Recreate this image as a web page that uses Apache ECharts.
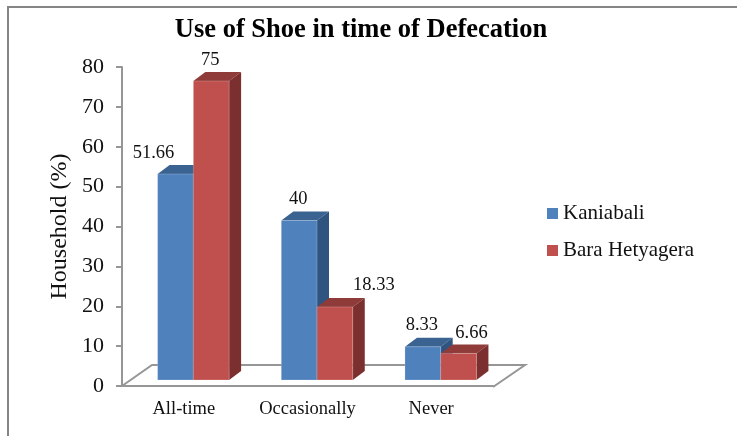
<!DOCTYPE html>
<html>
<head>
<meta charset="utf-8">
<title>Use of Shoe in time of Defecation</title>
<script src="https://cdn.jsdelivr.net/npm/echarts@6/dist/echarts.min.js"></script>
<style>
html, body { margin: 0; padding: 0; background: #fff; }
#chart { width: 737px; height: 436px; }
</style>
</head>
<body>
<div id="chart"></div>
<script>
var categories = ['All-time', 'Occasionally', 'Never'];
var kaniabali = [51.66, 40, 8.33];
var baraHetyagera = [75, 18.33, 6.66];
var yTicks = [0, 80, 10];

// 手动摆放的数据标签偏移量 (相对柱子正面顶部中点)
var kaniabaliLabelShift = [[-22, -21], [-1, -21], [-1, -22]];
var baraLabelShift = [[-1, -21], [39, -22], [13, -20]];

var FONT = '"Liberation Serif", "Times New Roman", serif';
var GREY = '#969696';
var DEPTH_X = 12, DEPTH_Y = 9;
var FLOOR_LIFT = 6; // 柱底比坐标轴 0 刻度高一点

function renderBar(values, shifts, seriesPos, front, top, side) {
    return function (params, api) {
        var i = api.value(0);
        var band = api.size([1, 0])[0];
        var w = band * 0.289;
        var c = api.coord([i, values[i]]);
        var b = api.coord([i, 0]);
        var x0 = c[0] + band * 0.077 + (seriesPos - 1) * w;
        var x1 = x0 + w;
        var y0 = c[1] - FLOOR_LIFT;
        var y1 = b[1] - FLOOR_LIFT;
        return {
            type: 'group',
            children: [
                {
                    type: 'polygon',
                    shape: {points: [[x0, y0], [x0 + DEPTH_X, y0 - DEPTH_Y], [x1 + DEPTH_X, y0 - DEPTH_Y], [x1, y0]]},
                    style: {fill: top}
                },
                {
                    type: 'polygon',
                    shape: {points: [[x1, y0], [x1 + DEPTH_X, y0 - DEPTH_Y], [x1 + DEPTH_X, y1 - DEPTH_Y], [x1, y1]]},
                    style: {fill: side}
                },
                {
                    type: 'rect',
                    shape: {x: x0, y: y0, width: w, height: y1 - y0},
                    style: {fill: front, stroke: 'rgba(255,255,255,0.2)', lineWidth: 1}
                },
                {
                    type: 'text',
                    style: {
                        x: (x0 + x1) / 2 + shifts[i][0],
                        y: y0 + shifts[i][1],
                        text: String(values[i]),
                        font: '18.5px ' + FONT,
                        fill: '#111',
                        align: 'center',
                        verticalAlign: 'middle'
                    }
                }
            ]
        };
    };
}

// 地板的平行四边形
function renderFloor(params) {
    var g = params.coordSys;
    var bottom = g.y + g.height;
    return {
        type: 'polyline',
        shape: {points: [[g.x, bottom], [g.x + 30, bottom - 21], [g.x + g.width + 32, bottom - 21], [g.x + g.width, bottom + 1]]},
        style: {fill: 'none', stroke: GREY, lineWidth: 2}
    };
}

var myChart = echarts.init(document.getElementById('chart'), null, {renderer: 'canvas'});

var option = {
    animation: false,
    backgroundColor: '#fff',
    textStyle: {fontFamily: FONT},
    title: {
        text: 'Use of Shoe in time of Defecation',
        left: 356,
        top: 12,
        textAlign: 'center',
        textStyle: {fontFamily: FONT, fontSize: 26.5, fontWeight: 'bold', color: '#000'}
    },
    legend: {
        left: 542,
        top: 198,
        orient: 'vertical',
        itemWidth: 11,
        itemHeight: 11,
        itemGap: 16,
        icon: 'rect',
        data: ['Kaniabali', 'Bara Hetyagera'],
        textStyle: {fontFamily: FONT, fontSize: 21, color: '#111'}
    },
    grid: {left: 122, right: 244, top: 67, bottom: 50},
    xAxis: {
        type: 'category',
        data: categories,
        axisLine: {lineStyle: {color: GREY, width: 2}},
        axisTick: {alignWithLabel: false, length: 6, lineStyle: {color: GREY, width: 2}},
        axisLabel: {fontFamily: FONT, fontSize: 18.5, color: '#111', margin: 14, interval: 0}
    },
    yAxis: {
        type: 'value',
        min: yTicks[0],
        max: yTicks[1],
        interval: yTicks[2],
        name: 'Household (%)',
        nameLocation: 'middle',
        nameGap: 50,
        nameMoveOverlap: false,
        nameTextStyle: {fontFamily: FONT, fontSize: 24, color: '#111'},
        splitLine: {show: false},
        axisLine: {show: true, lineStyle: {color: GREY, width: 2}},
        axisTick: {show: true, length: 6, lineStyle: {color: GREY, width: 2}},
        axisLabel: {fontFamily: FONT, fontSize: 22, color: '#111', margin: 18}
    },
    series: [
        {
            type: 'custom',
            name: 'floor',
            silent: true,
            z: 1,
            data: [0],
            renderItem: renderFloor
        },
        {
            type: 'custom',
            name: 'Kaniabali',
            z: 2,
            itemStyle: {color: '#4f81bd'},
            data: categories.map(function (c, i) { return [i, kaniabali[i]]; }),
            encode: {x: 0, y: 1},
            renderItem: renderBar(kaniabali, kaniabaliLabelShift, 0, '#4f81bd', '#3b6391', '#2f5480')
        },
        {
            type: 'custom',
            name: 'Bara Hetyagera',
            z: 3,
            itemStyle: {color: '#c0504d'},
            data: categories.map(function (c, i) { return [i, baraHetyagera[i]]; }),
            encode: {x: 0, y: 1},
            renderItem: renderBar(baraHetyagera, baraLabelShift, 1, '#c0504d', '#8f3b39', '#7b2f2e')
        }
    ],
    graphic: [
        // 外框只露出上边和左边
        {type: 'line', silent: true, shape: {x1: 8, y1: 7, x2: 737, y2: 7}, style: {stroke: '#858585', lineWidth: 2}},
        {type: 'line', silent: true, shape: {x1: 8, y1: 6, x2: 8, y2: 436}, style: {stroke: '#858585', lineWidth: 2}}
    ]
};

myChart.setOption(option);
</script>
</body>
</html>
